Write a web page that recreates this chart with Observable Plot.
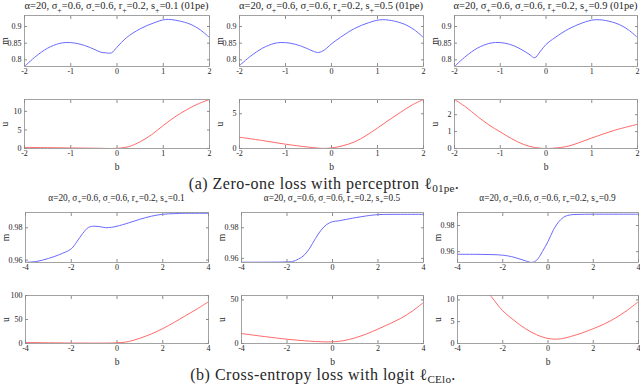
<!DOCTYPE html>
<html><head><meta charset="utf-8">
<script src="https://cdn.jsdelivr.net/npm/d3@7"></script>
<script src="https://cdn.jsdelivr.net/npm/@observablehq/plot@0.6"></script>
<style>
body{margin:0;background:#fff;}
#root{position:relative;width:640px;height:389px;overflow:hidden;font-family:"Liberation Serif","Times New Roman","DejaVu Serif",serif;color:#262626;}
.t{position:absolute;white-space:nowrap;line-height:1;transform:translateX(-50%);}
.t sub{font-size:75%;vertical-align:-0.45em;line-height:0;}
.cap{position:absolute;white-space:nowrap;font-size:16px;letter-spacing:0.5px;line-height:1;transform:translateX(-50%);}
.cap sub{font-size:70%;vertical-align:-0.3em;line-height:0;letter-spacing:0.2px;}
svg text{font-family:"Liberation Serif","Times New Roman","DejaVu Serif",serif !important;}
g[aria-label$="axis label"] text{font-size:9.5px;}
</style></head><body><div id="root"></div>
<script>
// ---------- data ----------
const titles01 = ["0.1", "0.5", "0.9"]; // s+ values
const ticksB01 = [-2, -1, 0, 1, 2];
const ticksBce = [-4, -2, 0, 2, 4];

// (a) zero-one loss, m(b)
const bM01a = [-2,-1.75,-1.5,-1.25,-1.1,-0.9,-0.7,-0.5,-0.35,-0.25,-0.12,0,0.2,0.5,0.8,1.05,1.3,1.6,1.8,2];
const mM01a = [0.780,0.811,0.835,0.849,0.852,0.850,0.843,0.832,0.823,0.821,0.821,0.838,0.866,0.893,0.911,0.921,0.918,0.906,0.890,0.867];
const bM01b = [-2,-1.75,-1.5,-1.25,-1.1,-0.9,-0.7,-0.5,-0.4,-0.28,-0.15,0,0.2,0.5,0.8,1.05,1.3,1.6,1.8,2];
const mM01b = [0.783,0.812,0.835,0.849,0.852,0.850,0.843,0.832,0.826,0.822,0.830,0.848,0.868,0.894,0.911,0.920,0.918,0.906,0.890,0.867];
const bM01c = [-2,-1.75,-1.5,-1.25,-1.1,-0.9,-0.7,-0.5,-0.35,-0.25,-0.12,0,0.2,0.5,0.8,1.05,1.3,1.6,1.8,2];
const mM01c = [0.780,0.811,0.835,0.849,0.852,0.850,0.842,0.828,0.815,0.806,0.826,0.846,0.867,0.893,0.911,0.920,0.918,0.906,0.890,0.867];
// (a) zero-one loss, u(b)
const bU01a = [-2,-1.5,-1,-0.5,0,0.25,0.5,0.75,1,1.25,1.5,1.75,2];
const uU01a = [0.3,0.22,0.15,0.08,0.05,0.5,1.8,3.75,6.2,8.5,10.4,12.0,13.2];
const bU01b = [-2,-1.5,-1,-0.5,-0.2,0,0.25,0.5,0.75,1,1.25,1.5,1.75,2];
const uU01b = [1.62,1.15,0.62,0.2,0.02,0.08,0.4,0.95,1.85,2.95,4.1,5.2,6.25,7.05];
const bU01c = [-2,-1.75,-1.5,-1.25,-1,-0.75,-0.5,-0.25,0,0.25,0.5,1,1.5,2];
const uU01c = [2.9,2.45,1.9,1.4,0.98,0.58,0.25,0.06,0,0.04,0.15,0.62,1.08,1.43];

// (b) cross-entropy, m(b)
const bMcea = [-4,-3.5,-3,-2.5,-2,-1.75,-1.5,-1.25,-1,-0.75,-0.5,-0.25,0,0.5,1,1.5,2,2.5,3,4];
const mMcea = [0.9586,0.9592,0.961,0.9635,0.967,0.9715,0.9765,0.9802,0.981,0.9807,0.9801,0.9803,0.981,0.983,0.9853,0.9872,0.9884,0.9888,0.989,0.989];
const bMceb = [-4,-3,-2,-1.75,-1.5,-1.25,-1,-0.75,-0.5,-0.25,0,0.25,0.5,1,1.5,2,3,4];
const mMceb = [0.9575,0.9575,0.9577,0.958,0.9595,0.962,0.9667,0.973,0.9785,0.9822,0.984,0.9845,0.9852,0.9866,0.9878,0.9886,0.9888,0.9888];
const bMcec = [-4,-3,-2,-1.5,-1,-0.7,-0.5,-0.25,0,0.25,0.5,0.75,1,1.5,2,4];
const mMcec = [0.958,0.9579,0.9573,0.9557,0.953,0.9518,0.9535,0.960,0.9678,0.977,0.9834,0.987,0.9882,0.9886,0.9887,0.9887];
// (b) cross-entropy, u(b)
const bUcea = [-4,-3,-2,-1,0,0.5,1,1.5,2,2.5,3,3.5,4];
const uUcea = [2.2,1.5,1.0,0.8,1.5,4,11,20,31,44,58,72,87];
const bUceb = [-4,-3,-2,-1,-0.5,0,0.5,1,1.5,2,2.5,3,3.5,4];
const uUceb = [11.4,8.0,4.9,2.7,2.0,1.9,3.3,6.5,11,16.5,22.5,28.8,37,47];
const bUcec = [-4,-3.5,-3,-2.5,-2,-1.5,-1,-0.5,0,0.3,0.6,1,1.5,2,2.5,3,3.5,4];
const uUcec = [21,17.5,14,10.7,7.5,5.3,3.4,2.0,1.15,1.0,1.1,1.6,2.4,3.4,4.5,5.9,7.6,9.6];

// ---------- layout ----------
const root = document.getElementById("root");
const mL = 30, mR = 6, mT = 4, mB = 28;
const blue = "#6a6aff", red = "#ff6a6a", axisGray = "#8c8c8c";
const serif = '"Liberation Serif", "Times New Roman", "DejaVu Serif", serif';
const fmt = d => String(d);

function panel(c) {
  const w = c.x1 - c.x0, h = c.y1 - c.y0;
  const rows = c.b.map((b, i) => ({b, v: c.v[i]}));
  const common = {stroke: axisGray, fill: "#262626", tickSize: -3};
  const chart = Plot.plot({
    width: w + mL + mR, height: h + mT + mB,
    marginLeft: mL, marginRight: mR, marginTop: mT, marginBottom: mB,
    style: {background: "transparent", fontFamily: serif, fontSize: "8px", color: "#262626", overflow: "visible"},
    x: {domain: c.xd},
    y: {domain: c.yd},
    marks: [
      Plot.line(rows, {x: "b", y: "v", stroke: c.color, strokeWidth: 1, curve: "catmull-rom", clip: true}),
      Plot.frame({stroke: axisGray, strokeWidth: 0.8}),
      Plot.axisX({...common, ticks: c.xt, tickPadding: 5, tickFormat: fmt, label: c.xlabel || null, labelAnchor: "center", labelArrow: "none", labelOffset: 21}),
      Plot.axisX({...common, anchor: "top", ticks: c.xt, tickFormat: () => "", label: null}),
      Plot.axisY({...common, ticks: c.yt, tickPadding: 6, tickFormat: fmt, label: c.ylabel, labelAnchor: "center", labelArrow: "none", labelOffset: 23}),
      Plot.axisY({...common, anchor: "right", ticks: c.yt, tickFormat: () => "", label: null})
    ]
  });
  chart.style.position = "absolute";
  chart.style.left = (c.x0 - mL) + "px";
  chart.style.top = (c.y0 - mT) + "px";
  root.appendChild(chart);
}

function title(html, cx, top, size) {
  const d = document.createElement("div");
  d.className = "t"; d.innerHTML = html;
  d.style.left = cx + "px"; d.style.top = top + "px"; d.style.fontSize = size + "px";
  root.appendChild(d);
}
function caption(html, cx, top) {
  const d = document.createElement("div");
  d.className = "cap"; d.innerHTML = html;
  d.style.left = cx + "px"; d.style.top = top + "px";
  root.appendChild(d);
}

const colsA = [[24, 209], [239, 423], [454, 637]];
const colsB = [[25, 208], [241, 423], [457, 638]];

const mA = [[bM01a, mM01a], [bM01b, mM01b], [bM01c, mM01c]];
const uA = [[bU01a, uU01a], [bU01b, uU01b], [bU01c, uU01c]];
const mB_ = [[bMcea, mMcea], [bMceb, mMceb], [bMcec, mMcec]];
const uB = [[bUcea, uUcea], [bUceb, uUceb], [bUcec, uUcec]];

const ydA_m = [[0.78, 0.933], [0.78, 0.933], [0.78, 0.933]];
const ydA_u = [[0, 13.2], [0, 7.05], [0, 2.9]];
const ytA_u = [[0, 5, 10], [0, 5], [0, 1, 2]];
const ydB_m = [[0.9585, 0.9895], [0.9573, 0.99], [0.9517, 0.99]];
const ydB_u = [[0, 100], [0, 55], [0, 11]];
const ytB_u = [[0, 50, 100], [0, 50], [0, 5, 10]];

const tHead = s => `α=20, σ<sub>+</sub>=0.6, σ<sub>-</sub>=0.6, r<sub>+</sub>=0.2, s<sub>+</sub>=${s}`;

for (let i = 0; i < 3; i++) {
  const [ax0, ax1] = colsA[i], [bx0, bx1] = colsB[i];
  panel({x0: ax0, x1: ax1, y0: 15, y1: 66, xd: [-2, 2], xt: ticksB01, yd: ydA_m[i], yt: [0.8, 0.85, 0.9], b: mA[i][0], v: mA[i][1], color: blue, ylabel: "m"});
  panel({x0: ax0, x1: ax1, y0: 99, y1: 148, xd: [-2, 2], xt: ticksB01, yd: ydA_u[i], yt: ytA_u[i], b: uA[i][0], v: uA[i][1], color: red, ylabel: "u", xlabel: "b"});
  panel({x0: bx0, x1: bx1, y0: 212, y1: 262, xd: [-4, 4], xt: ticksBce, yd: ydB_m[i], yt: [0.96, 0.98], b: mB_[i][0], v: mB_[i][1], color: blue, ylabel: "m"});
  panel({x0: bx0, x1: bx1, y0: 295, y1: 343, xd: [-4, 4], xt: ticksBce, yd: ydB_u[i], yt: ytB_u[i], b: uB[i][0], v: uB[i][1], color: red, ylabel: "u", xlabel: "b"});
  title(tHead(titles01[i]) + " (01pe)", (ax0 + ax1) / 2, 1, 10.5);
  title(tHead(titles01[i]), (bx0 + bx1) / 2, 194, 9.3);
}
caption("(a) Zero-one loss with perceptron ℓ<sub>01pe</sub>.", 324, 176);
caption("(b) Cross-entropy loss with logit ℓ<sub>CElo</sub>.", 323, 367);
</script>
</body></html>
